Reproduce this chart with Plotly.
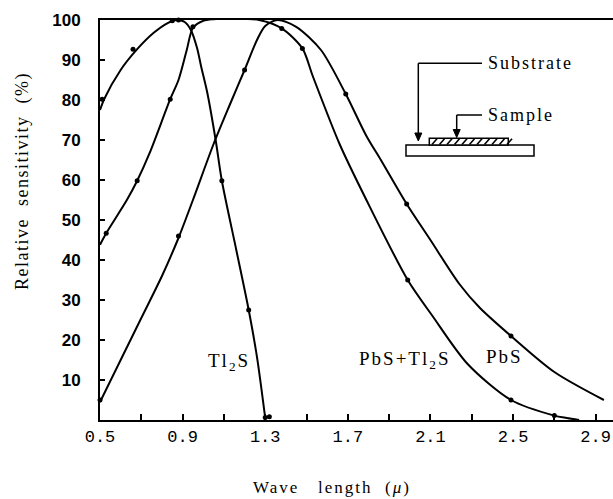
import plotly.graph_objects as go

# ---------------- data ----------------
# Tl2S curve
tl2s_x = [0.50, 0.52, 0.60, 0.68, 0.76, 0.83, 0.87, 0.91, 0.94, 0.97, 0.99, 1.02, 1.06, 1.09, 1.16, 1.22, 1.26, 1.30]
tl2s_y = [77.5, 80.2, 87.5, 92.7, 96.8, 99.3, 100.0, 99.5, 97.5, 93.0, 88.3, 81.7, 70.0, 59.8, 42.5, 27.5, 15.8, 0.5]
tl2s_pts_x = [0.51, 0.66, 0.85, 0.88, 1.09, 1.22, 1.30, 1.32]
tl2s_pts_y = [80.2, 92.7, 99.8, 100.0, 59.8, 27.5, 0.6, 0.8]

# PbS + Tl2S curve
mix_x = [0.50, 0.53, 0.63, 0.68, 0.74, 0.84, 0.88, 0.92, 0.95, 1.00, 1.05, 1.17, 1.27, 1.38, 1.48, 1.53, 1.66, 1.79, 1.99, 2.11, 2.28, 2.49, 2.70, 2.76, 2.82]
mix_y = [43.8, 46.7, 55.0, 59.8, 66.7, 80.2, 85.0, 92.5, 98.0, 99.8, 100.2, 100.3, 100.0, 97.9, 92.9, 86.0, 69.0, 55.0, 35.0, 26.0, 14.0, 5.0, 1.1, 0.5, 0.0]
mix_pts_x = [0.53, 0.68, 0.84, 0.95, 1.17, 1.38, 1.48, 1.99, 2.49, 2.70]
mix_pts_y = [46.7, 59.8, 80.2, 98.3, 100.3, 97.9, 92.9, 35.0, 5.0, 1.1]

# PbS curve
pbs_x = [0.50, 0.60, 0.70, 0.80, 0.88, 0.95, 1.05, 1.13, 1.20, 1.26, 1.30, 1.36, 1.45, 1.57, 1.69, 1.79, 1.86, 1.985, 2.10, 2.24, 2.34, 2.49, 2.70, 2.94]
pbs_y = [4.5, 15.0, 25.5, 36.0, 45.5, 55.0, 69.0, 79.0, 87.5, 95.0, 98.5, 100.0, 98.3, 92.5, 81.5, 71.0, 65.0, 54.0, 45.0, 34.0, 28.0, 21.0, 12.0, 5.0]
pbs_pts_x = [0.50, 0.88, 1.20, 1.36, 1.69, 1.985, 2.49]
pbs_pts_y = [5.0, 46.0, 87.5, 100.3, 81.5, 54.0, 21.0]

x_tick_vals = [0.5, 0.9, 1.3, 1.7, 2.1, 2.5, 2.9]
x_tick_text = ["0.5", "0.9", "1.3", "1.7", "2.1", "2.5", "2.9"]
y_tick_vals = [10, 20, 30, 40, 50, 60, 70, 80, 90, 100]
y_tick_text = ["10", "20", "30", "40", "50", "60", "70", "80", "90", "100"]

# ---------------- figure ----------------
W, H = 613, 499
ML, MR, MT, MB = 100, 0, 20, 79
PW, PH = W - ML - MR, H - MT - MB


def px2paper(px, py):
    return (px - ML) / PW, (H - MB - py) / PH


SERIF = "Liberation Serif, Times New Roman, serif"

fig = go.Figure()
for cx, cy, mx, my in [
    (tl2s_x, tl2s_y, tl2s_pts_x, tl2s_pts_y),
    (mix_x, mix_y, mix_pts_x, mix_pts_y),
    (pbs_x, pbs_y, pbs_pts_x, pbs_pts_y),
]:
    fig.add_trace(go.Scatter(x=cx, y=cy, mode="lines",
                             line=dict(color="black", width=2, shape="spline", smoothing=0.8),
                             hoverinfo="skip"))
    fig.add_trace(go.Scatter(x=mx, y=my, mode="markers",
                             marker=dict(color="black", size=5), cliponaxis=False,
                             hoverinfo="skip"))

fig.update_layout(
    width=W, height=H,
    margin=dict(l=ML, r=MR, t=MT, b=MB),
    plot_bgcolor="white", paper_bgcolor="white",
    showlegend=False,
)
fig.update_xaxes(
    range=[0.5, 2.984], showline=True, linecolor="black", linewidth=2, mirror=True,
    showgrid=False, zeroline=False,
    tickmode="array", tickvals=x_tick_vals, ticktext=x_tick_text,
    ticks="inside", ticklen=6, tickwidth=1.5, tickcolor="black",
    minor=dict(ticks="inside", tick0=0.5, dtick=0.2, ticklen=6, tickwidth=1.5, tickcolor="black"),
    tickfont=dict(family="Liberation Mono, monospace", size=17, color="black"),
)
fig.update_yaxes(
    range=[0, 100], showline=True, linecolor="black", linewidth=2,
    showgrid=False, zeroline=False,
    tickmode="array", tickvals=y_tick_vals, ticktext=y_tick_text,
    ticks="inside", ticklen=5, tickwidth=1.5, tickcolor="black",
    ticklabelstandoff=14,
    tickfont=dict(family="Liberation Sans Narrow, Liberation Sans, Arial", size=17, color="black", weight="bold"),
)

LS = '<span style="letter-spacing:{}px">{}</span>'
annotations = []


def label(txt, px, py, size, spacing=2, angle=0, xanchor="center"):
    x0, y0 = px2paper(px, py)
    annotations.append(dict(x=x0, y=y0, xref="paper", yref="paper", showarrow=False,
                            xanchor=xanchor, yanchor="middle", textangle=angle,
                            text=LS.format(spacing, txt),
                            font=dict(family=SERIF, size=size, color="black")))


# axis titles
label("Wave\u00a0\u00a0\u00a0length\u00a0\u00a0(<i>\u03bc</i>)", 332, 487, 17)
label("Relative\u00a0\u00a0sensitivity\u00a0\u00a0(%)", 22, 181, 18, spacing=1.5, angle=-90)
# curve labels
label("Tl<sub>2</sub>S", 229, 362, 19)
label("PbS+Tl<sub>2</sub>S", 404, 360, 19)
label("PbS", 504, 356, 19)
# inset labels
label("Substrate", 486, 63, 18, xanchor="left")
label("Sample", 486, 115, 18, xanchor="left")
fig.update_layout(annotations=annotations)

shapes = []
def pline(x1, y1, x2, y2, w=1.5):
    a, b = px2paper(x1, y1)
    c, d = px2paper(x2, y2)
    shapes.append(dict(type="line", xref="paper", yref="paper", x0=a, y0=b, x1=c, y1=d,
                       line=dict(color="black", width=w)))

def prect(x1, y1, x2, y2, w=1.5):
    a, b = px2paper(x1, y1)
    c, d = px2paper(x2, y2)
    shapes.append(dict(type="rect", xref="paper", yref="paper", x0=a, y0=b, x1=c, y1=d,
                       line=dict(color="black", width=w), fillcolor="white"))

def ptri(tx, ty):
    pts = [px2paper(tx - 3.5, ty - 8), px2paper(tx + 3.5, ty - 8), px2paper(tx, ty)]
    path = "M {} {} L {} {} L {} {} Z".format(pts[0][0], pts[0][1], pts[1][0], pts[1][1], pts[2][0], pts[2][1])
    shapes.append(dict(type="path", xref="paper", yref="paper", path=path,
                       line=dict(color="black", width=1), fillcolor="black"))

# substrate leader + arrow
pline(418.3, 63.3, 482, 63.3)
pline(418.3, 63.3, 418.3, 134)
ptri(418.3, 141)
# sample leader + arrow
pline(456.7, 115, 482, 115)
pline(456.7, 115, 456.7, 130)
ptri(456.7, 137.5)
# substrate and sample layer
prect(406, 145, 534, 156)
prect(429.3, 138.3, 508.3, 145)
hx = 432.0
while hx < 508:
    pline(hx, 144.5, hx + 5, 138.8, w=1.6)
    hx += 7.5
fig.update_layout(shapes=shapes)

fig.write_html("out.html", config={"displayModeBar": False},
               post_script="document.body.style.margin='0px';")
